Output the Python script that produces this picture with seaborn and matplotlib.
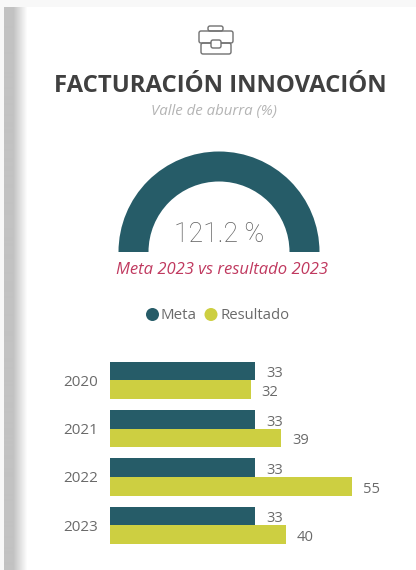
import numpy as np
import pandas as pd
import matplotlib
matplotlib.use('Agg')
import matplotlib.pyplot as plt
from matplotlib.patches import FancyBboxPatch, Rectangle, Circle
import seaborn as sns

W, H = 416, 570

years = ['2020', '2021', '2022', '2023']
meta = [33, 33, 33, 33]
resultado = [32, 39, 55, 40]
series_names = ['Meta', 'Resultado']
gauge_value = 121.2
gauge_max = 100

teal = '#265c68'
lime = '#cdcf41'
grey_txt = '#6a6a6a'

sns.set_theme(style='white')
plt.rcParams['font.family'] = ['Open Sans', 'DejaVu Sans']

fig = plt.figure(figsize=(W/100, H/100), dpi=100, facecolor='white')

def px_axes(x0, y0, x1, y1):
    # pixel box measured from the top left of the picture
    return fig.add_axes([x0/W, 1-y1/H, (x1-x0)/W, (y1-y0)/H])

# background layer in pixel coordinates
bg = fig.add_axes([0, 0, 1, 1])
bg.set_xlim(0, W)
bg.set_ylim(H, 0)
bg.axis('off')
bg.add_patch(Rectangle((0, 0), W, 7, color='#f8f8f8', lw=0))
bg.add_patch(Rectangle((0, 0), 4, H, color='#f8f8f8', lw=0))
shadow = np.concatenate([np.full(9, 0.76), np.linspace(0.76, 1, 15)])
bg.imshow(shadow[None, :], cmap='gray', vmin=0, vmax=1, extent=(4, 28, H, 7),
          aspect='auto', interpolation='bilinear')
bg.set_xlim(0, W)
bg.set_ylim(H, 0)

# briefcase icon
icon_c = '#707070'
bg.add_patch(FancyBboxPatch((199, 31), 34, 12, boxstyle='round,pad=0,rounding_size=2',
                            fc='none', ec=icon_c, lw=1.0))
bg.add_patch(FancyBboxPatch((201, 43), 30, 11, boxstyle='round,pad=0,rounding_size=2',
                            fc='none', ec=icon_c, lw=1.0))
bg.add_patch(FancyBboxPatch((208, 26), 15, 5, boxstyle='round,pad=0,rounding_size=2',
                            fc='none', ec=icon_c, lw=1.0))
bg.add_patch(FancyBboxPatch((211, 40), 10, 8, boxstyle='round,pad=0,rounding_size=2',
                            fc='white', ec=icon_c, lw=1.0, zorder=3))

# texts
bg.text(220.5, 86, 'FACTURACIÓN INNOVACIÓN', ha='center', va='center', fontsize=17.2,
        fontweight='bold', color='#404040')
bg.text(213.5, 111, 'Valle de aburra (%)', ha='center', va='center', fontsize=10.8,
        style='italic', color='#b4b4b4')
bg.text(219.5, 234, '{:.1f} %'.format(gauge_value), ha='center', va='center', fontsize=19.2,
        fontweight='light', family=['Roboto', 'DejaVu Sans'], color='#5f5f5f')
bg.text(222, 270.5, 'Meta 2023 vs resultado 2023', ha='center', va='center', fontsize=12,
        style='italic', color='#c0395f')

# legend
bg.add_patch(Circle((152.5, 314.5), 6.5, color=teal, lw=0))
bg.text(161, 315.5, series_names[0], ha='left', va='center', fontsize=10.9, color=grey_txt)
bg.add_patch(Circle((211, 314.5), 6.5, color=lime, lw=0))
bg.text(220, 315.5, series_names[1], ha='left', va='center', fontsize=10.7, color=grey_txt)

# gauge
R = 100.5
ax_g = px_axes(219-R-1, 252-R-1, 219+R+1, 252+R+1)
frac = min(gauge_value, gauge_max)/gauge_max*0.5
ax_g.pie([frac], normalize=False, startangle=0, radius=R/(R+1), colors=[teal],
         wedgeprops=dict(width=30/(R+1), lw=0))
ax_g.set_xlim(-1, 1)
ax_g.set_ylim(-1, 1)
ax_g.patch.set_alpha(0)

# bars
df = pd.DataFrame({'year': years*2,
                   'serie': [series_names[0]]*4 + [series_names[1]]*4,
                   'valor': meta + resultado})
ax = px_axes(109.5, 356, 109.5+264.6, 549.6)
sns.barplot(data=df, y='year', x='valor', hue='serie', hue_order=series_names,
            palette=[teal, lime], width=0.765, gap=0, dodge=True, legend=False,
            saturation=1, linewidth=0, ax=ax)
ax.set_xlim(0, 60)
ax.set_ylim(3.5, -0.5)
ax.set_xlabel('')
ax.set_ylabel('')
ax.set_xticks([])
ax.patch.set_alpha(0)
sns.despine(ax=ax, left=True, bottom=True)
ax.tick_params(axis='y', length=0, pad=8.3, labelsize=11, labelcolor=grey_txt)

for cont in ax.containers:
    labels = ax.bar_label(cont, padding=8, fontsize=10.6, color=grey_txt, label_type='edge')
    for t in labels:
        t.xyann = (t.xyann[0], -2)
        t.set_va('center')

fig.savefig('out.png', dpi=100, facecolor='white')
